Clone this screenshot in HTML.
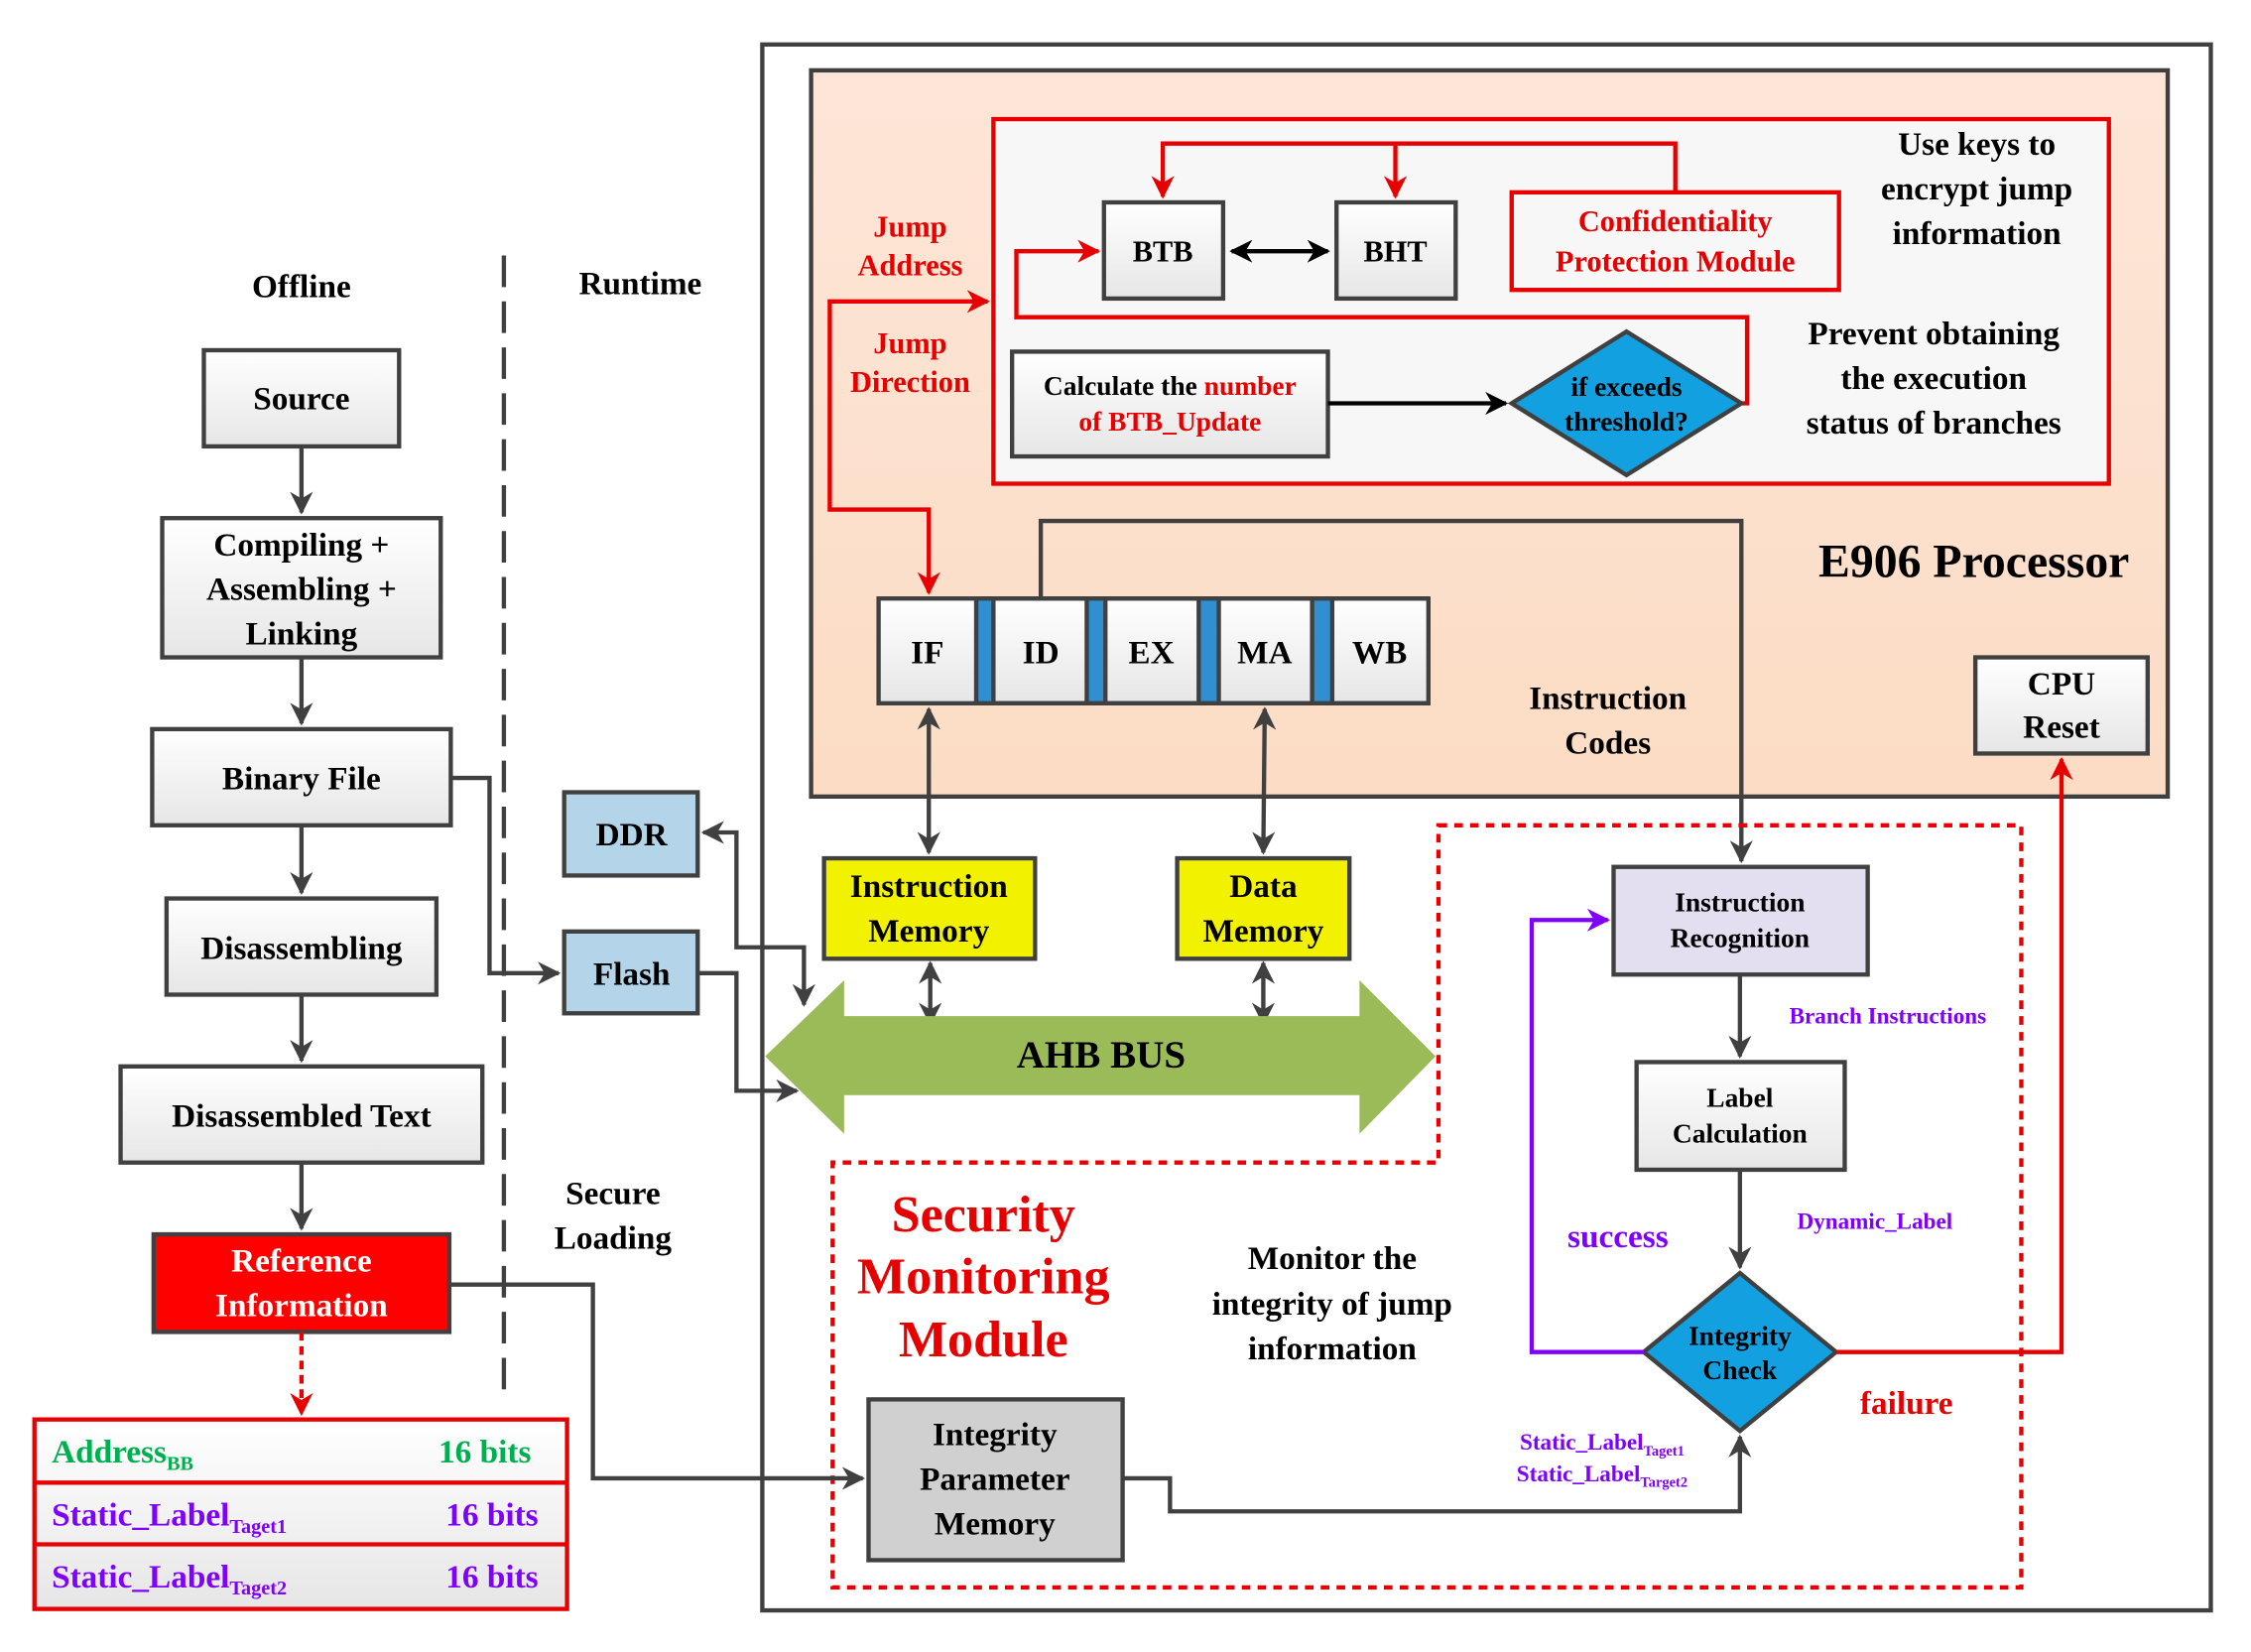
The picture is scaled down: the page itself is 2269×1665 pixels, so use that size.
<!DOCTYPE html>
<html><head><meta charset="utf-8"><style>
html,body{margin:0;padding:0;background:#fff;}
svg{display:block;}
text{font-family:"Liberation Serif",serif;font-weight:bold;}
</style></head><body>
<svg width="2269" height="1665" viewBox="0 0 1568 1151" preserveAspectRatio="none" xmlns="http://www.w3.org/2000/svg">
<defs>
<linearGradient id="g" x1="0" y1="0" x2="0" y2="1"><stop offset="0" stop-color="#ffffff"/><stop offset="1" stop-color="#e6e6e6"/></linearGradient>
<linearGradient id="peach" x1="0" y1="0" x2="0" y2="1"><stop offset="0" stop-color="#fde6d8"/><stop offset="1" stop-color="#fcdcc4"/></linearGradient>
<marker id="a" viewBox="0 0 10 10" markerWidth="16" markerHeight="16" refX="9" refY="5" orient="auto-start-reverse" markerUnits="userSpaceOnUse"><path d="M0,0 L10,5 L0,10 L3,5z" fill="#404040"/></marker>
<marker id="ab" viewBox="0 0 10 10" markerWidth="16" markerHeight="16" refX="9" refY="5" orient="auto-start-reverse" markerUnits="userSpaceOnUse"><path d="M0,0 L10,5 L0,10 L3,5z" fill="#000"/></marker>
<marker id="ar" viewBox="0 0 10 10" markerWidth="16" markerHeight="16" refX="9" refY="5" orient="auto-start-reverse" markerUnits="userSpaceOnUse"><path d="M0,0 L10,5 L0,10 L3,5z" fill="#e60000"/></marker>
<marker id="ap" viewBox="0 0 10 10" markerWidth="16" markerHeight="16" refX="9" refY="5" orient="auto-start-reverse" markerUnits="userSpaceOnUse"><path d="M0,0 L10,5 L0,10 L3,5z" fill="#7f00ff"/></marker>
</defs>

<rect x="531" y="31" width="1009" height="1091" fill="none" stroke="#404040" stroke-width="3"/>
<rect x="565" y="49" width="945" height="506" fill="url(#peach)" stroke="#404040" stroke-width="3"/>
<rect x="692" y="83" width="777" height="254" fill="#f7f7f7" stroke="#e60000" stroke-width="3"/>

<rect x="769" y="141" width="83" height="67" fill="url(#g)" stroke="#404040" stroke-width="3"/>
<text x="810" y="182" font-size="21" text-anchor="middle">BTB</text>
<rect x="931" y="141" width="83" height="67" fill="url(#g)" stroke="#404040" stroke-width="3"/>
<text x="972" y="182" font-size="21" text-anchor="middle">BHT</text>
<line x1="858" y1="175" x2="925" y2="175" stroke="#000" stroke-width="3" marker-start="url(#ab)" marker-end="url(#ab)"/>
<rect x="1053" y="134" width="228" height="68" fill="#f7f7f7" stroke="#e60000" stroke-width="3"/>
<text x="1167" y="161" font-size="21" fill="#e60000" text-anchor="middle">Confidentiality</text>
<text x="1167" y="189" font-size="21" fill="#e60000" text-anchor="middle">Protection Module</text>
<polyline points="1167,134 1167,100 810,100 810,137" fill="none" stroke="#e60000" stroke-width="3" marker-end="url(#ar)"/>
<polyline points="972,100 972,137" fill="none" stroke="#e60000" stroke-width="3" marker-end="url(#ar)"/>
<polyline points="1213,281 1217,281 1217,221 708,221 708,175 765,175" fill="none" stroke="#e60000" stroke-width="3" marker-end="url(#ar)"/>

<text x="1377" y="108" font-size="23" text-anchor="middle">Use  keys to</text>
<text x="1377" y="139" font-size="23" text-anchor="middle">encrypt jump</text>
<text x="1377" y="170" font-size="23" text-anchor="middle">information</text>
<text x="1347" y="240" font-size="23" text-anchor="middle">Prevent obtaining</text>
<text x="1347" y="271" font-size="23" text-anchor="middle">the execution</text>
<text x="1347" y="302" font-size="23" text-anchor="middle">status of branches</text>

<rect x="705" y="245" width="220" height="73" fill="url(#g)" stroke="#404040" stroke-width="3"/>
<text x="815" y="275" font-size="19" text-anchor="middle">Calculate the  <tspan fill="#e60000">number</tspan></text>
<text x="815" y="300" font-size="19" fill="#e60000" text-anchor="middle">of BTB_Update</text>
<line x1="925" y1="281" x2="1049" y2="281" stroke="#000" stroke-width="3" marker-end="url(#ab)"/>
<polygon points="1133,231 1213,281 1133,331 1053,281" fill="#12a0e0" stroke="#404040" stroke-width="3"/>
<text x="1133" y="276" font-size="19" text-anchor="middle">if exceeds</text>
<text x="1133" y="300" font-size="19" text-anchor="middle">threshold?</text>

<text x="634" y="165" font-size="21" fill="#e60000" text-anchor="middle">Jump</text>
<text x="634" y="192" font-size="21" fill="#e60000" text-anchor="middle">Address</text>
<text x="634" y="246" font-size="21" fill="#e60000" text-anchor="middle">Jump</text>
<text x="634" y="273" font-size="21" fill="#e60000" text-anchor="middle">Direction</text>
<polyline points="647,413 647,355 578,355 578,210 688,210" fill="none" stroke="#e60000" stroke-width="3" marker-start="url(#ar)" marker-end="url(#ar)"/>

<text x="1375" y="402" font-size="33" text-anchor="middle">E906 Processor</text>
<text x="1120" y="494" font-size="23" text-anchor="middle">Instruction</text>
<text x="1120" y="525" font-size="23" text-anchor="middle">Codes</text>

<rect x="680" y="417" width="12" height="73" fill="#2f8fd0"/>
<rect x="757" y="417" width="13" height="73" fill="#2f8fd0"/>
<rect x="835" y="417" width="14" height="73" fill="#2f8fd0"/>
<rect x="914" y="417" width="14" height="73" fill="#2f8fd0"/>
<g fill="url(#g)" stroke="#404040" stroke-width="3">
<rect x="612" y="417" width="68" height="73"/><rect x="692" y="417" width="65" height="73"/>
<rect x="770" y="417" width="65" height="73"/><rect x="849" y="417" width="65" height="73"/>
<rect x="928" y="417" width="67" height="73"/></g>
<line x1="680" y1="417" x2="995" y2="417" stroke="#404040" stroke-width="3"/>
<line x1="680" y1="490" x2="995" y2="490" stroke="#404040" stroke-width="3"/>
<g font-size="23" text-anchor="middle"><text x="646" y="462">IF</text><text x="725" y="462">ID</text><text x="802" y="462">EX</text><text x="881" y="462">MA</text><text x="961" y="462">WB</text></g>
<polyline points="725,417 725,363 1213,363 1213,600" fill="none" stroke="#404040" stroke-width="3" marker-end="url(#a)"/>

<rect x="1376" y="458" width="120" height="67" fill="url(#g)" stroke="#404040" stroke-width="3"/>
<text x="1436" y="484" font-size="23" text-anchor="middle">CPU</text>
<text x="1436" y="514" font-size="23" text-anchor="middle">Reset</text>

<line x1="647" y1="494" x2="647" y2="594" stroke="#404040" stroke-width="3" marker-start="url(#a)" marker-end="url(#a)"/>
<line x1="881" y1="494" x2="880" y2="594" stroke="#404040" stroke-width="3" marker-start="url(#a)" marker-end="url(#a)"/>
<rect x="574" y="598" width="147" height="70" fill="#f2f200" stroke="#404040" stroke-width="3"/>
<text x="647" y="625" font-size="23" text-anchor="middle">Instruction</text>
<text x="647" y="656" font-size="23" text-anchor="middle">Memory</text>
<rect x="820" y="598" width="120" height="70" fill="#f2f200" stroke="#404040" stroke-width="3"/>
<text x="880" y="625" font-size="23" text-anchor="middle">Data</text>
<text x="880" y="656" font-size="23" text-anchor="middle">Memory</text>
<line x1="648" y1="671" x2="648" y2="713" stroke="#404040" stroke-width="3" marker-start="url(#a)" marker-end="url(#a)"/>
<line x1="880" y1="671" x2="880" y2="713" stroke="#404040" stroke-width="3" marker-start="url(#a)" marker-end="url(#a)"/>

<polygon points="533,736 588,683 588,708 947,708 947,683 1000,736 947,790 947,763 588,763 588,790" fill="#9bbb59"/>
<text x="767" y="744" font-size="27" text-anchor="middle">AHB BUS</text>

<polygon points="1002,575 1408,575 1408,1106 580,1106 580,810 1002,810" fill="none" stroke="#e60000" stroke-width="3" stroke-dasharray="6,5"/>

<rect x="1124" y="604" width="177" height="75" fill="#e4dff0" stroke="#404040" stroke-width="3"/>
<text x="1212" y="635" font-size="19" text-anchor="middle">Instruction</text>
<text x="1212" y="660" font-size="19" text-anchor="middle">Recognition</text>
<line x1="1212" y1="679" x2="1212" y2="736" stroke="#404040" stroke-width="3" marker-end="url(#a)"/>
<text x="1315" y="713" font-size="16" fill="#7f00ff" text-anchor="middle">Branch Instructions</text>
<rect x="1140" y="740" width="145" height="75" fill="url(#g)" stroke="#404040" stroke-width="3"/>
<text x="1212" y="771" font-size="19" text-anchor="middle">Label</text>
<text x="1212" y="796" font-size="19" text-anchor="middle">Calculation</text>
<line x1="1212" y1="815" x2="1212" y2="883" stroke="#404040" stroke-width="3" marker-end="url(#a)"/>
<text x="1306" y="856" font-size="16" fill="#7f00ff" text-anchor="middle">Dynamic_Label</text>
<polygon points="1212,887 1279,942 1212,997 1145,942" fill="#12a0e0" stroke="#404040" stroke-width="3"/>
<text x="1212" y="937" font-size="19" text-anchor="middle">Integrity</text>
<text x="1212" y="961" font-size="19" text-anchor="middle">Check</text>
<polyline points="1145,942 1067,942 1067,641 1120,641" fill="none" stroke="#7f00ff" stroke-width="3" marker-end="url(#ap)"/>
<text x="1127" y="869" font-size="23" fill="#7f00ff" text-anchor="middle">success</text>
<polyline points="1279,942 1436,942 1436,529" fill="none" stroke="#e60000" stroke-width="3" marker-end="url(#ar)"/>
<text x="1328" y="985" font-size="23" fill="#e60000" text-anchor="middle">failure</text>
<text x="1116" y="1010" font-size="16" fill="#7f00ff" text-anchor="middle">Static_Label<tspan font-size="10" dy="4">Taget1</tspan></text>
<text x="1116" y="1032" font-size="16" fill="#7f00ff" text-anchor="middle">Static_Label<tspan font-size="10" dy="4">Target2</tspan></text>

<text x="685" y="858" font-size="36" fill="#e60000" text-anchor="middle">Security</text>
<text x="685" y="901" font-size="36" fill="#e60000" text-anchor="middle">Monitoring</text>
<text x="685" y="945" font-size="36" fill="#e60000" text-anchor="middle">Module</text>
<text x="928" y="884" font-size="23" text-anchor="middle">Monitor  the</text>
<text x="928" y="916" font-size="23" text-anchor="middle">integrity of jump</text>
<text x="928" y="947" font-size="23" text-anchor="middle">information</text>

<rect x="605" y="975" width="177" height="112" fill="#d0d0d0" stroke="#404040" stroke-width="3"/>
<text x="693" y="1007" font-size="23" text-anchor="middle">Integrity</text>
<text x="693" y="1038" font-size="23" text-anchor="middle">Parameter</text>
<text x="693" y="1069" font-size="23" text-anchor="middle">Memory</text>
<polyline points="782,1030 815,1030 815,1053 1212,1053 1212,1001" fill="none" stroke="#404040" stroke-width="3" marker-end="url(#a)"/>

<text x="210" y="207" font-size="23" text-anchor="middle">Offline</text>
<text x="446" y="205" font-size="23" text-anchor="middle">Runtime</text>
<line x1="351" y1="178" x2="351" y2="975" stroke="#404040" stroke-width="3" stroke-dasharray="22,10"/>

<g fill="url(#g)" stroke="#404040" stroke-width="3">
<rect x="142" y="244" width="136" height="67"/>
<rect x="113" y="361" width="194" height="97"/>
<rect x="106" y="508" width="208" height="67"/>
<rect x="116" y="626" width="188" height="67"/>
<rect x="84" y="743" width="252" height="67"/>
</g>
<text x="210" y="285" font-size="23" text-anchor="middle">Source</text>
<text x="210" y="387" font-size="23" text-anchor="middle">Compiling +</text>
<text x="210" y="418" font-size="23" text-anchor="middle">Assembling +</text>
<text x="210" y="449" font-size="23" text-anchor="middle">Linking</text>
<text x="210" y="550" font-size="23" text-anchor="middle">Binary File</text>
<text x="210" y="668" font-size="23" text-anchor="middle">Disassembling</text>
<text x="210" y="785" font-size="23" text-anchor="middle">Disassembled Text</text>
<rect x="107" y="860" width="206" height="68" fill="#fe0000" stroke="#404040" stroke-width="3"/>
<text x="210" y="886" font-size="23" fill="#fff" text-anchor="middle">Reference</text>
<text x="210" y="917" font-size="23" fill="#fff" text-anchor="middle">Information</text>
<g stroke="#404040" stroke-width="3">
<line x1="210" y1="311" x2="210" y2="357" marker-end="url(#a)"/>
<line x1="210" y1="458" x2="210" y2="504" marker-end="url(#a)"/>
<line x1="210" y1="575" x2="210" y2="622" marker-end="url(#a)"/>
<line x1="210" y1="693" x2="210" y2="739" marker-end="url(#a)"/>
<line x1="210" y1="810" x2="210" y2="856" marker-end="url(#a)"/>
</g>
<line x1="210" y1="928" x2="210" y2="985" stroke="#e60000" stroke-width="3" stroke-dasharray="6,4" marker-end="url(#ar)"/>

<rect x="24" y="989" width="371" height="132" fill="url(#g)" stroke="#e60000" stroke-width="3"/>
<line x1="24" y1="1033" x2="395" y2="1033" stroke="#e60000" stroke-width="3"/>
<line x1="24" y1="1076" x2="395" y2="1076" stroke="#e60000" stroke-width="3"/>
<text x="36" y="1019" font-size="23" fill="#00b050">Address<tspan font-size="14" dy="5">BB</tspan></text>
<text x="370" y="1019" font-size="23" fill="#00b050" text-anchor="end">16 bits</text>
<text x="36" y="1063" font-size="23" fill="#7f00ff">Static_Label<tspan font-size="14" dy="5">Taget1</tspan></text>
<text x="375" y="1063" font-size="23" fill="#7f00ff" text-anchor="end">16 bits</text>
<text x="36" y="1106" font-size="23" fill="#7f00ff">Static_Label<tspan font-size="14" dy="5">Taget2</tspan></text>
<text x="375" y="1106" font-size="23" fill="#7f00ff" text-anchor="end">16 bits</text>

<rect x="393" y="552" width="93" height="58" fill="#b4d4ea" stroke="#404040" stroke-width="3"/>
<text x="440" y="589" font-size="23" text-anchor="middle">DDR</text>
<rect x="393" y="649" width="93" height="57" fill="#b4d4ea" stroke="#404040" stroke-width="3"/>
<text x="440" y="686" font-size="23" text-anchor="middle">Flash</text>
<polyline points="314,542 341,542 341,678 389,678" fill="none" stroke="#404040" stroke-width="3" marker-end="url(#a)"/>
<polyline points="490,580 513,580 513,660 560,660 560,700" fill="none" stroke="#404040" stroke-width="3" marker-start="url(#a)" marker-end="url(#a)"/>
<polyline points="486,678 513,678 513,760 555,760" fill="none" stroke="#404040" stroke-width="3" marker-end="url(#a)"/>
<polyline points="313,895 413,895 413,1030 601,1030" fill="none" stroke="#404040" stroke-width="3" marker-end="url(#a)"/>
<text x="427" y="839" font-size="23" text-anchor="middle">Secure</text>
<text x="427" y="870" font-size="23" text-anchor="middle">Loading</text>
</svg>
</body></html>
